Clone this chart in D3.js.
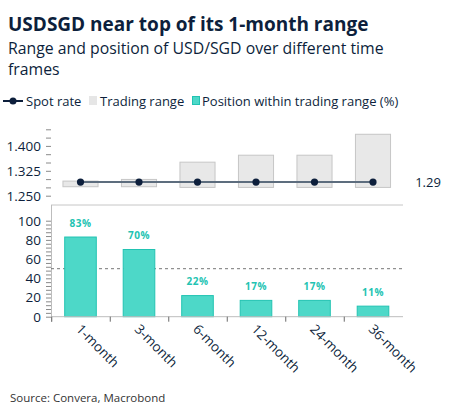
<!DOCTYPE html>
<html>
<head>
<meta charset="utf-8">
<script src="https://cdn.jsdelivr.net/npm/d3@7"></script>
<style>
  body { margin: 0; background: #fff; }
  svg { display: block; font-family: "Open Sans", "Noto Sans", sans-serif; }
</style>
</head>
<body>
<svg id="chart" width="453" height="417"></svg>
<script>
const periods = ['1-month', '3-month', '6-month', '12-month', '24-month', '36-month'];
const rangeLow = [1.277, 1.277, 1.275, 1.275, 1.275, 1.275];
const rangeHigh = [1.294, 1.299, 1.351, 1.372, 1.372, 1.435];
const spot = [1.291, 1.291, 1.291, 1.291, 1.291, 1.291];
const position = [83, 70, 22, 17, 17, 11];
const spotLabel = '1.29';
const topTickLabels = [1.25, 1.325, 1.4];

const navy = '#0d1f3c';
const teal = '#4dd8c8';
const tealDark = '#22c3b2';
const grey = '#c6c6c6';

const svg = d3.select('#chart');

// titles
svg.append('text').attr('x', 8).attr('y', 31)
    .attr('font-size', 19).attr('font-weight', 700).attr('fill', navy)
    .text('USDSGD near top of its 1-month range');
svg.append('text').attr('x', 8).attr('y', 54)
    .attr('font-size', 15.8).attr('fill', navy)
    .text('Range and position of USD/SGD over different time');
svg.append('text').attr('x', 8).attr('y', 75)
    .attr('font-size', 15.8).attr('fill', navy)
    .text('frames');

// legend
const leg = svg.append('g').attr('font-size', 13).attr('fill', navy);
leg.append('line').attr('x1', 3).attr('x2', 23).attr('y1', 101).attr('y2', 101)
    .attr('stroke', navy).attr('stroke-width', 2);
leg.append('circle').attr('cx', 13).attr('cy', 101).attr('r', 3.5).attr('fill', navy);
leg.append('text').attr('x', 26).attr('y', 105.5).text('Spot rate');
leg.append('rect').attr('x', 89).attr('y', 96).attr('width', 8).attr('height', 9).attr('fill', '#e6e6e6');
leg.append('text').attr('x', 100).attr('y', 105.5).text('Trading range');
leg.append('rect').attr('x', 192.5).attr('y', 96.5).attr('width', 7).attr('height', 8)
    .attr('fill', teal).attr('stroke', tealDark);
leg.append('text').attr('x', 202).attr('y', 105.5).text('Position within trading range (%)');

// shared x band
const x = d3.scaleBand().domain(periods).range([51.25, 402.25]).paddingInner(0.4).paddingOuter(0.2);
const xBottom = d3.scaleBand().domain(periods).range([51.25, 402.25]).paddingInner(0.46).paddingOuter(0.23);

// top panel
const yTop = d3.scaleLinear().domain([1.25, 1.45]).range([195.7, 129.3]);
const topTicks = d3.range(0, 9).map(i => 1.25 + i * 0.025);
const yTopAxis = d3.axisLeft(yTop).tickValues(topTicks).tickSize(5).tickPadding(5)
    .tickFormat(d => topTickLabels.some(t => Math.abs(t - d) < 1e-6) ? d3.format('.3f')(d) : '');
const gTopAxis = svg.append('g').attr('transform', 'translate(51,0)').call(yTopAxis);
gTopAxis.select('.domain').remove();
gTopAxis.selectAll('line').attr('stroke', '#8a8a8a');
gTopAxis.selectAll('text').attr('fill', navy).attr('font-size', 13.5).attr('font-family', '"Open Sans", sans-serif');

svg.append('g').selectAll('rect').data(periods).join('rect')
    .attr('x', d => x(d))
    .attr('width', x.bandwidth())
    .attr('y', (d, i) => yTop(rangeHigh[i]))
    .attr('height', (d, i) => yTop(rangeLow[i]) - yTop(rangeHigh[i]))
    .attr('fill', '#e8e8e8').attr('stroke', grey).attr('stroke-width', 1);

const spotLine = d3.line().x((d, i) => x(periods[i]) + x.bandwidth() / 2).y(d => yTop(d));
svg.append('path').datum(spot).attr('d', spotLine)
    .attr('fill', 'none').attr('stroke', '#5d6d7e').attr('stroke-width', 2);
svg.append('g').selectAll('circle').data(spot).join('circle')
    .attr('cx', (d, i) => x(periods[i]) + x.bandwidth() / 2)
    .attr('cy', d => yTop(d)).attr('r', 3.6).attr('fill', navy);
svg.append('text').attr('x', 428).attr('y', yTop(spot[spot.length - 1]) + 4.5)
    .attr('text-anchor', 'middle').attr('font-size', 13).attr('fill', navy).text(spotLabel);

// separator
svg.append('line').attr('x1', 51).attr('x2', 403).attr('y1', 205).attr('y2', 205)
    .attr('stroke', grey).attr('stroke-width', 1);

// bottom panel
const yBot = d3.scaleLinear().domain([0, 100]).range([316.7, 220.7]);
const yBotAxis = d3.axisLeft(yBot).tickValues(d3.range(0, 101, 4)).tickSize(5).tickPadding(5)
    .tickFormat(d => d % 20 === 0 ? d : '');
const gBotAxis = svg.append('g').attr('transform', 'translate(51,0)').call(yBotAxis);
gBotAxis.select('.domain').remove();
gBotAxis.selectAll('line').attr('stroke', '#8a8a8a');
gBotAxis.selectAll('text').attr('fill', navy).attr('font-size', 13.5).attr('font-family', '"Open Sans", sans-serif');
svg.append('line').attr('x1', 51.5).attr('x2', 51.5).attr('y1', 205).attr('y2', 322)
    .attr('stroke', '#bdbdbd');

svg.append('line').attr('x1', 51).attr('x2', 403)
    .attr('y1', yBot(50)).attr('y2', yBot(50))
    .attr('stroke', '#777').attr('stroke-dasharray', '3,3').attr('stroke-width', 1);

svg.append('g').selectAll('rect').data(periods).join('rect')
    .attr('x', d => xBottom(d))
    .attr('width', xBottom.bandwidth())
    .attr('y', (d, i) => yBot(position[i]))
    .attr('height', (d, i) => yBot(0) - yBot(position[i]))
    .attr('fill', teal).attr('stroke', tealDark).attr('stroke-width', 1);

svg.append('g').selectAll('text').data(periods).join('text')
    .attr('x', d => x(d) + x.bandwidth() / 2)
    .attr('y', (d, i) => yBot(position[i]) - 10.5)
    .attr('text-anchor', 'middle').attr('font-size', 10).attr('font-weight', 700)
    .attr('fill', tealDark).attr('letter-spacing', 0.5)
    .text((d, i) => position[i] + '%');

// x axis
svg.append('line').attr('x1', 51).attr('x2', 403).attr('y1', yBot(0)).attr('y2', yBot(0))
    .attr('stroke', '#bdbdbd');
const bounds = d3.range(0, periods.length).map(i => 51.25 + i * x.step());
svg.append('g').selectAll('line').data(bounds).join('line')
    .attr('x1', d => d + 0.5).attr('x2', d => d + 0.5)
    .attr('y1', yBot(0)).attr('y2', yBot(0) + 5)
    .attr('stroke', '#6a6a6a');
svg.append('g').selectAll('text').data(periods).join('text')
    .attr('transform', d => `translate(${x(d) + x.bandwidth() / 2 - 2},${yBot(0) + 10}) rotate(45)`)
    .attr('font-size', 13.5).attr('fill', navy).attr('dy', '0.35em')
    .text(d => d);

// source
svg.append('text').attr('x', 10).attr('y', 402).attr('font-size', 11.5).attr('fill', '#333')
    .text('Source: Convera, Macrobond');
</script>
</body>
</html>
